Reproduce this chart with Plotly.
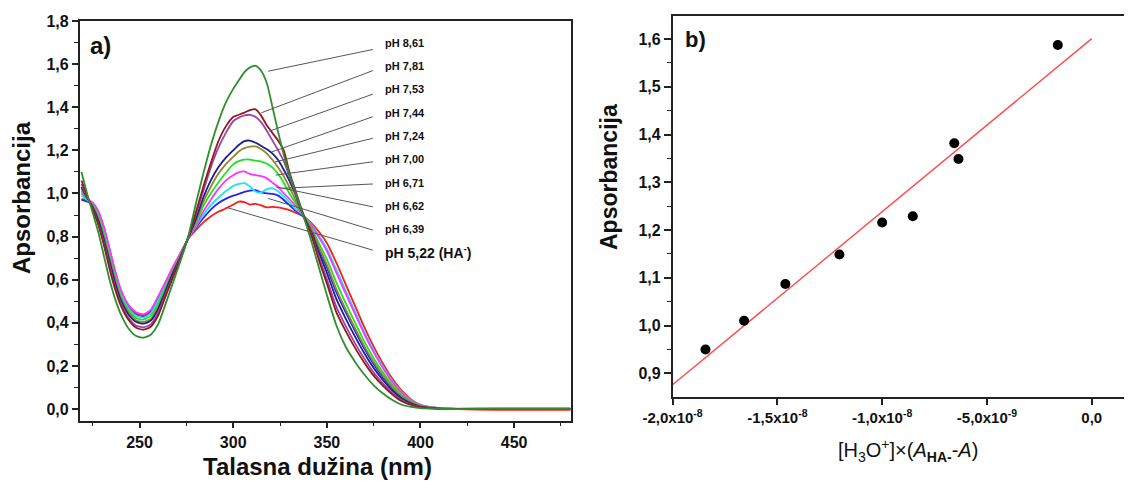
import plotly.graph_objects as go

# ---------------- data: panel a) spectra ----------------
wavelength_nm = [219, 222, 225, 228, 231, 234, 237, 240, 244, 248, 252, 256, 260, 264, 268, 272, 276,
                 280, 284, 288, 292, 296, 300, 303, 306, 309, 312, 315, 318, 321, 324, 327, 330, 333,
                 336, 339, 342, 346, 350, 355, 360, 365, 370, 375, 380, 385, 390, 395, 400, 410, 420,
                 440, 460, 480]

abs_ph_8_61 = [1.10, 1.00, 0.91, 0.82, 0.71, 0.60, 0.51, 0.44, 0.375, 0.34, 0.331, 0.345, 0.395, 0.49, 0.59, 0.69, 0.80,
               0.95, 1.09, 1.22, 1.33, 1.42, 1.485, 1.525, 1.563, 1.585, 1.592, 1.568, 1.51, 1.40, 1.285, 1.18, 1.09, 1.01,
               0.935, 0.855, 0.77, 0.65, 0.53, 0.39, 0.29, 0.22, 0.16, 0.11, 0.072, 0.042, 0.02, 0.01, 0.004, 0.001, 0.0,
               0.001, 0.001, 0.001]
abs_ph_7_81 = [1.06, 0.99, 0.925, 0.855, 0.76, 0.65, 0.555, 0.48, 0.415, 0.378, 0.368, 0.382, 0.435, 0.525, 0.615, 0.70, 0.797,
               0.91, 1.03, 1.14, 1.24, 1.31, 1.355, 1.365, 1.375, 1.387, 1.39, 1.36, 1.315, 1.28, 1.245, 1.2, 1.10, 1.02,
               0.94, 0.866, 0.80, 0.685, 0.583, 0.451, 0.363, 0.285, 0.215, 0.155, 0.107, 0.067, 0.036, 0.019, 0.008, 0.002, 0.0,
               0.0, 0.0, 0.0]
abs_ph_7_53 = [1.045, 0.985, 0.93, 0.86, 0.77, 0.665, 0.565, 0.49, 0.425, 0.388, 0.379, 0.393, 0.447, 0.535, 0.62, 0.705, 0.796,
               0.90, 1.01, 1.12, 1.21, 1.28, 1.335, 1.352, 1.362, 1.365, 1.355, 1.33, 1.29, 1.245, 1.2, 1.15, 1.08, 1.01,
               0.935, 0.868, 0.806, 0.699, 0.603, 0.476, 0.386, 0.306, 0.233, 0.169, 0.118, 0.074, 0.041, 0.022, 0.009, 0.002, 0.001,
               0.002, 0.002, 0.002]
abs_ph_7_44 = [1.03, 0.982, 0.937, 0.875, 0.785, 0.685, 0.585, 0.505, 0.44, 0.405, 0.396, 0.41, 0.465, 0.55, 0.635, 0.71, 0.795,
               0.88, 0.98, 1.06, 1.12, 1.165, 1.20, 1.225, 1.243, 1.245, 1.235, 1.22, 1.205, 1.185, 1.155, 1.11, 1.06, 1.0,
               0.93, 0.871, 0.816, 0.721, 0.633, 0.512, 0.421, 0.337, 0.259, 0.191, 0.134, 0.086, 0.049, 0.026, 0.011, 0.002, 0.001,
               0.001, 0.001, 0.001]
abs_ph_7_24 = [1.02, 0.978, 0.94, 0.885, 0.795, 0.695, 0.595, 0.515, 0.45, 0.412, 0.404, 0.418, 0.475, 0.555, 0.64, 0.713, 0.794,
               0.87, 0.96, 1.03, 1.09, 1.135, 1.17, 1.195, 1.21, 1.217, 1.218, 1.205, 1.185, 1.155, 1.12, 1.08, 1.03, 0.975,
               0.925, 0.875, 0.828, 0.748, 0.67, 0.558, 0.464, 0.376, 0.292, 0.218, 0.155, 0.101, 0.059, 0.031, 0.014, 0.003, 0.001,
               0.001, 0.001, 0.001]
abs_ph_7_00 = [1.01, 0.975, 0.945, 0.895, 0.81, 0.71, 0.61, 0.525, 0.46, 0.423, 0.415, 0.432, 0.49, 0.568, 0.645, 0.717, 0.793,
               0.86, 0.94, 1.0, 1.05, 1.095, 1.135, 1.15, 1.157, 1.157, 1.152, 1.148, 1.138, 1.12, 1.09, 1.05, 1.0, 0.96,
               0.92, 0.878, 0.836, 0.766, 0.695, 0.589, 0.493, 0.402, 0.314, 0.236, 0.169, 0.111, 0.066, 0.035, 0.015, 0.003, 0.001,
               0.002, 0.002, 0.002]
abs_ph_6_71 = [1.0, 0.975, 0.958, 0.918, 0.845, 0.745, 0.64, 0.555, 0.485, 0.45, 0.44, 0.46, 0.523, 0.592, 0.662, 0.726, 0.79,
               0.85, 0.915, 0.97, 1.02, 1.06, 1.085, 1.098, 1.102, 1.09, 1.085, 1.08, 1.07, 1.05, 1.03, 1.0, 0.975, 0.945,
               0.915, 0.881, 0.848, 0.793, 0.733, 0.634, 0.537, 0.441, 0.347, 0.263, 0.189, 0.125, 0.075, 0.04, 0.018, 0.004, 0.002,
               0.003, 0.003, 0.003]
abs_ph_6_62 = [0.99, 0.97, 0.95, 0.905, 0.825, 0.725, 0.62, 0.537, 0.47, 0.434, 0.424, 0.444, 0.505, 0.58, 0.652, 0.72, 0.792,
               0.845, 0.90, 0.945, 0.98, 1.01, 1.035, 1.045, 1.048, 1.032, 1.008, 1.005, 1.02, 1.024, 1.01, 0.985, 0.96, 0.93,
               0.91, 0.883, 0.852, 0.802, 0.745, 0.65, 0.551, 0.454, 0.358, 0.272, 0.196, 0.13, 0.079, 0.042, 0.018, 0.004, 0.001,
               0.001, 0.001, 0.001]
abs_ph_6_39 = [0.97, 0.962, 0.95, 0.908, 0.83, 0.73, 0.625, 0.54, 0.473, 0.437, 0.427, 0.447, 0.51, 0.582, 0.654, 0.722, 0.791,
               0.84, 0.885, 0.925, 0.955, 0.975, 0.99, 0.998, 1.007, 1.013, 1.015, 1.005, 1.0, 0.998, 0.99, 0.97, 0.946, 0.922,
               0.905, 0.874, 0.824, 0.739, 0.658, 0.543, 0.45, 0.363, 0.281, 0.209, 0.148, 0.096, 0.056, 0.029, 0.013, 0.003, 0.001,
               0.001, 0.001, 0.001]
abs_ph_5_22 = [0.975, 0.968, 0.955, 0.915, 0.84, 0.74, 0.635, 0.55, 0.48, 0.445, 0.435, 0.455, 0.52, 0.59, 0.66, 0.725, 0.79,
               0.83, 0.865, 0.893, 0.915, 0.93, 0.948, 0.962, 0.96, 0.948, 0.952, 0.945, 0.935, 0.938, 0.935, 0.93, 0.923, 0.912,
               0.90, 0.885, 0.86, 0.82, 0.77, 0.68, 0.58, 0.48, 0.38, 0.29, 0.21, 0.14, 0.085, 0.045, 0.02, 0.004, 0.0,
               -0.004, -0.004, -0.004]

ph_labels = ["pH 8,61", "pH 7,81", "pH 7,53", "pH 7,44", "pH 7,24", "pH 7,00",
             "pH 6,71", "pH 6,62", "pH 6,39", "pH 5,22 (HA<sup>-</sup>)"]

# ---------------- data: panel b) ----------------
b_x = [-1.843e-8, -1.659e-8, -1.462e-8, -1.204e-8, -1.0e-8, -8.54e-9, -6.56e-9, -6.36e-9, -1.62e-9]
b_y = [0.950, 1.010, 1.087, 1.149, 1.216, 1.229, 1.382, 1.349, 1.5875]
fit_x = [-2.0e-8, 0.0]
fit_y = [0.876, 1.601]
b_tickvals = [-2.0e-8, -1.5e-8, -1.0e-8, -5.0e-9, 0.0]
b_ticktext = ["-2,0x10<sup>-8</sup>", "-1,5x10<sup>-8</sup>", "-1,0x10<sup>-8</sup>",
              "-5,0x10<sup>-9</sup>", "0,0"]

# ---------------- styling ----------------
OFF = 8                      # page body margin that the browser adds around the figure
W, H = 1132 - OFF, 481 - OFF
FONT = "Liberation Sans, Arial, sans-serif"
series = [
    (abs_ph_5_22, "#ff1a1a"),
    (abs_ph_6_39, "#2222ff"),
    (abs_ph_6_62, "#1fe3f2"),
    (abs_ph_6_71, "#ff33ff"),
    (abs_ph_7_00, "#22e022"),
    (abs_ph_7_24, "#8b8b2b"),
    (abs_ph_7_44, "#1e1e8c"),
    (abs_ph_7_53, "#a040a8"),
    (abs_ph_7_81, "#8c1c1c"),
    (abs_ph_8_61, "#2f8f2f"),
]

fig = go.Figure()
for vals, col in series:
    fig.add_trace(go.Scatter(x=wavelength_nm, y=vals, mode="lines",
                             line=dict(color=col, width=1.8, shape="spline", smoothing=0.6),
                             xaxis="x", yaxis="y", hoverinfo="skip"))

fig.add_trace(go.Scatter(x=fit_x, y=fit_y, mode="lines", line=dict(color="#ff4a4a", width=1.4),
                         xaxis="x2", yaxis="y2", hoverinfo="skip"))
fig.add_trace(go.Scatter(x=b_x, y=b_y, mode="markers", marker=dict(color="black", size=10),
                         xaxis="x2", yaxis="y2", hoverinfo="skip"))

axis_common = dict(showgrid=False, zeroline=False, showline=True, linecolor="#222", linewidth=1.5,
                   ticks="outside", tickcolor="#222", tickwidth=1.5, automargin=False)

def px_x(p):
    return min(1.0, max(0.0, (p - OFF) / W))

def px_y(p):
    return min(1.0, max(0.0, 1 - (p - OFF) / H))

# leader-line geometry (label anchor on the right, end near curve), in data units
label_x = 380.0
label_y = [1.696, 1.591, 1.483, 1.374, 1.266, 1.158, 1.047, 0.942, 0.833, 0.730]
leader_start_x = 374.6
leader_start_y = [1.668, 1.570, 1.461, 1.356, 1.256, 1.147, 1.044, 0.938, 0.830, 0.737]
leader_end = [(318.7, 1.567), (315.0, 1.374), (319.3, 1.289), (320.6, 1.193), (322.2, 1.146),
              (322.7, 1.085), (325.7, 1.024), (322.7, 1.031), (318.7, 0.977), (296.1, 0.936)]

annotations = []
shapes = []
for i, txt in enumerate(ph_labels):
    size = 14 if i == len(ph_labels) - 1 else 11
    annotations.append(dict(x=label_x, y=label_y[i], xref="x", yref="y", text=txt, showarrow=False,
                            xanchor="left", yanchor="middle",
                            font=dict(family=FONT, size=size, color="#111", weight="bold")))
    ex, ey = leader_end[i]
    shapes.append(dict(type="line", xref="x", yref="y", x0=leader_start_x, y0=leader_start_y[i],
                       x1=ex, y1=ey, line=dict(color="#555", width=1)))

def paper_text(px, py, text, size, bold=True, angle=0):
    font = dict(family=FONT, size=size, color="#111")
    if bold:
        font["weight"] = "bold"
    return dict(x=px_x(px), y=px_y(py), xref="paper", yref="paper", text=text, showarrow=False,
                xanchor="center", yanchor="middle", textangle=angle, font=font)

annotations += [
    paper_text(100, 45, "a)", 24),
    paper_text(695, 40, "b)", 22),
    paper_text(21, 198, "Apsorbancija", 24, angle=-90),
    paper_text(317, 466, "Talasna dužina (nm)", 24),
    paper_text(609, 177, "Apsorbancija", 23, angle=-90),
    paper_text(908, 450, "[H<sub>3</sub>O<sup>+</sup>]×(<i>A</i><sub><b>HA-</b></sub>-<i>A</i>)", 20, bold=False),
]

fig.update_layout(
    width=W, height=H, margin=dict(l=0, r=0, t=0, b=0, pad=0, autoexpand=False),
    paper_bgcolor="white", plot_bgcolor="white", showlegend=False, separators=", ",
    hovermode=False,
    xaxis=dict(domain=[px_x(79.6), px_x(570.7)], range=[218, 480.2], anchor="y",
               tickmode="linear", tick0=250, dtick=50, ticklen=6, mirror=True,
               tickfont=dict(family=FONT, size=16, color="#111", weight="bold"),
               minor=dict(ticks="outside", ticklen=4, tickwidth=1.3, tickcolor="#222",
                          tick0=225, dtick=25, showgrid=False),
               **axis_common),
    yaxis=dict(domain=[px_y(420.7), px_y(21)], range=[-0.054, 1.8], anchor="x",
               tickmode="linear", tick0=0, dtick=0.2, tickformat=".1f", ticklen=6, mirror=True,
               tickfont=dict(family=FONT, size=16, color="#111", weight="bold"),
               minor=dict(ticks="outside", ticklen=4, tickwidth=1.3, tickcolor="#222",
                          tick0=0, dtick=0.1, showgrid=False),
               **axis_common),
    xaxis2=dict(domain=[px_x(672.6), 1.0], range=[-2.0e-8, 1.92e-9], anchor="y2",
                tickmode="array", tickvals=b_tickvals, ticktext=b_ticktext, ticklen=7, mirror=True,
                tickfont=dict(family=FONT, size=15, color="#111", weight="bold"),
                minor=dict(ticks="outside", ticklen=4, tickwidth=1.3, tickcolor="#222",
                           tick0=-2.0e-8, dtick=5.0e-9, showgrid=False),
                **axis_common),
    yaxis2=dict(domain=[px_y(396.7), px_y(15.7)], range=[0.851, 1.649], anchor="x2",
                tickmode="linear", tick0=0.9, dtick=0.1, tickformat=".1f", ticklen=7,
                tickfont=dict(family=FONT, size=16, color="#111", weight="bold"),
                minor=dict(ticks="outside", ticklen=4, tickwidth=1.3, tickcolor="#222",
                           tick0=0.85, dtick=0.1, showgrid=False),
                **axis_common),
    annotations=annotations,
    shapes=shapes,
)

fig.write_html("out.html")
